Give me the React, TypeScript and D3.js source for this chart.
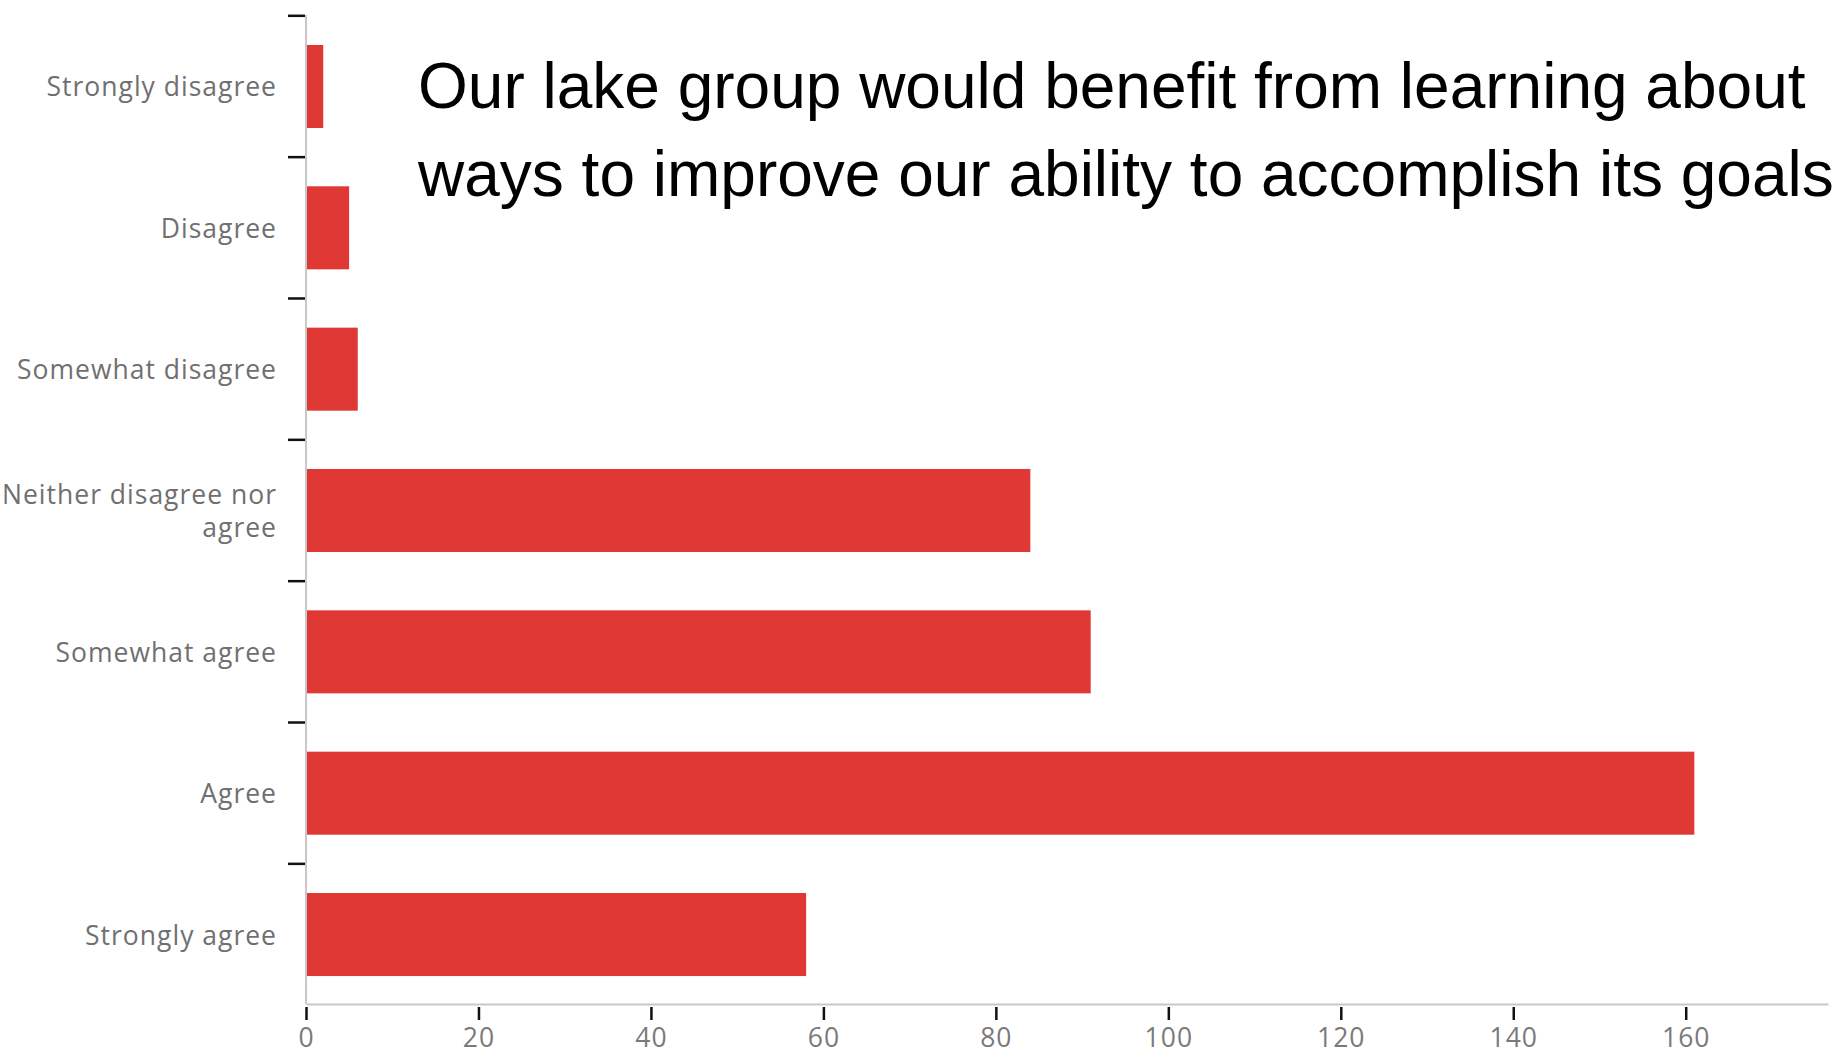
import { useEffect, useRef } from 'react';
import * as d3 from 'd3';

const categories = [
    'Strongly disagree',
    'Disagree',
    'Somewhat disagree',
    'Neither disagree nor agree',
    'Somewhat agree',
    'Agree',
    'Strongly agree',
];

const counts = [2, 5, 6, 84, 91, 161, 58];

const xTicks = [0, 20, 40, 60, 80, 100, 120, 140, 160];

const titleLines = [
    'Our lake group would benefit from learning about',
    'ways to improve our ability to accomplish its goals',
];

// labels that wrap onto two lines in the original
const labelLines: Record<string, string[]> = {
    'Neither disagree nor agree': ['Neither disagree nor', 'agree'],
};

const width = 1837;
const height = 1055;

const App = () => {
    const svgRef = useRef<SVGSVGElement>(null);

    useEffect(() => {
        const root = d3.select(svgRef.current);
        root.selectAll('*').remove();

        const left = 306;
        const right = 1828;
        const top = 15;
        const bottom = 1004;
        const barColor = '#e03935';
        const labelFont = '"Open Sans", "Noto Sans", sans-serif';

        const x = d3.scaleLinear().domain([0, 176.5]).range([left, right]);

        const y = d3
            .scaleBand<string>()
            .domain(categories)
            .range([top, bottom + 2])
            .paddingInner(0.4126)
            .paddingOuter(0.212);

        const data = categories.map((c, i) => ({ category: c, count: counts[i] }));

        // bars
        root.append('g')
            .selectAll('rect')
            .data(data)
            .enter()
            .append('rect')
            .attr('x', x(0))
            .attr('y', (d) => y(d.category) as number)
            .attr('width', (d) => x(d.count) - x(0))
            .attr('height', y.bandwidth())
            .attr('fill', barColor);

        // y axis line
        root.append('line')
            .attr('x1', left)
            .attr('x2', left)
            .attr('y1', top)
            .attr('y2', bottom)
            .attr('stroke', '#c8c8c8')
            .attr('stroke-width', 2);

        // y ticks sit between the bands
        const gap = (y.step() * y.paddingInner()) / 2;
        root.append('g')
            .selectAll('line')
            .data(categories)
            .enter()
            .append('line')
            .attr('x1', left - 18)
            .attr('x2', left - 1)
            .attr('y1', (d) => (y(d) as number) - gap)
            .attr('y2', (d) => (y(d) as number) - gap)
            .attr('stroke', '#111')
            .attr('stroke-width', 2.5);

        // category labels
        const labels = root.append('g')
            .selectAll('text')
            .data(categories)
            .enter()
            .append('text')
            .attr('x', left - 29)
            .attr('y', (d) => (y(d) as number) + y.bandwidth() / 2)
            .attr('text-anchor', 'end')
            .attr('dominant-baseline', 'central')
            .attr('fill', '#707070')
            .style('font-family', labelFont)
            .style('font-size', '26.5px')
            .style('letter-spacing', '1px');

        labels.each(function (d) {
            const lines = labelLines[d] || [d];
            const t = d3.select(this);
            lines.forEach((line, i) => {
                t.append('tspan')
                    .attr('x', left - 29)
                    .attr('dy', i === 0 ? `${-(lines.length - 1) * 0.63}em` : '1.26em')
                    .text(line);
            });
        });

        // x axis
        const xAxis = root.append('g')
            .attr('transform', `translate(0,${bottom})`)
            .call(
                d3.axisBottom(x)
                    .tickValues(xTicks)
                    .tickSize(16)
                    .tickSizeOuter(0)
                    .tickPadding(8)
            );

        xAxis.select('.domain').attr('stroke', '#c8c8c8').attr('stroke-width', 2);
        xAxis.selectAll('.tick line').attr('stroke', '#111').attr('stroke-width', 2.5).attr('y1', 3);
        xAxis.selectAll('.tick text')
            .attr('fill', '#7a7a7a')
            .style('font-family', labelFont)
            .style('font-size', '26.5px')
            .style('letter-spacing', '1px');

        // title
        root.append('g')
            .selectAll('text')
            .data(titleLines)
            .enter()
            .append('text')
            .attr('x', 418)
            .attr('y', (_d, i) => 108 + i * 88)
            .attr('fill', '#000')
            .style('font-family', '"Liberation Sans", Arial, sans-serif')
            .style('font-size', '64px')
            .text((d) => d);
    }, []);

    return (
        <div style={{ position: 'absolute', left: 0, top: 0 }}>
            <svg ref={svgRef} width={width} height={height} style={{ display: 'block', background: '#fff' }} />
        </div>
    );
};

export default App;
